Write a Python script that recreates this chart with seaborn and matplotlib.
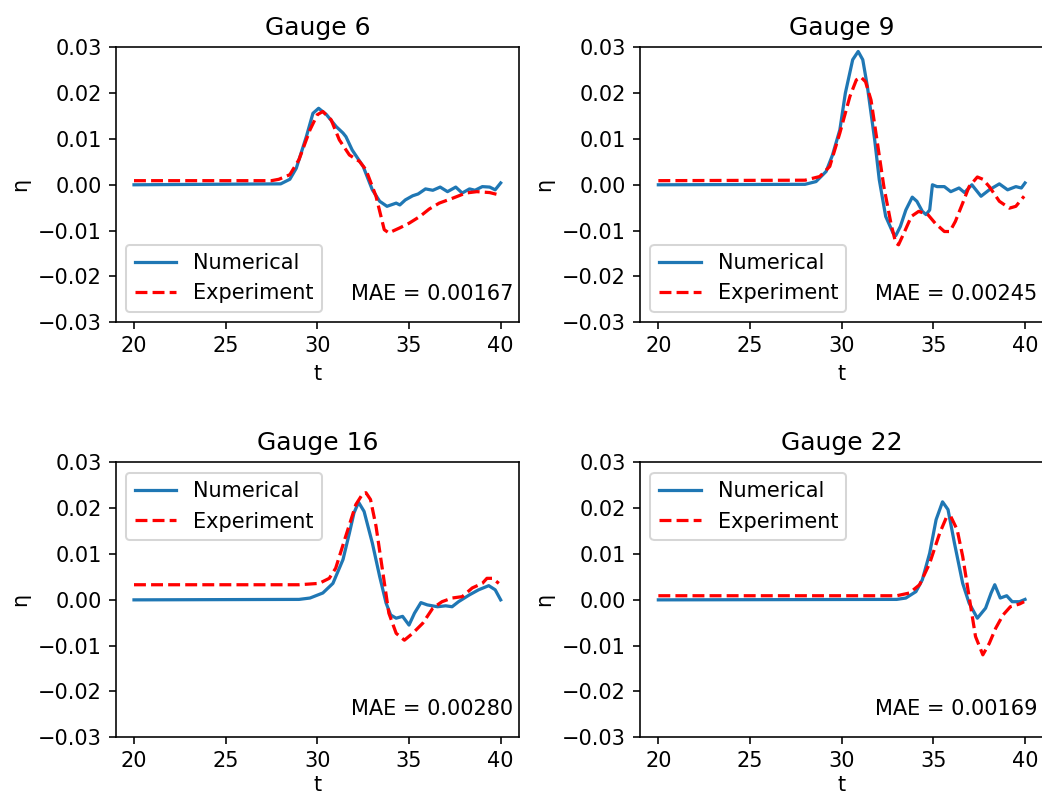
import numpy as np
import pandas as pd
import matplotlib
matplotlib.use("Agg")
import matplotlib.pyplot as plt
import seaborn as sns

# ---------------- data ----------------
gauges = ["Gauge 6", "Gauge 9", "Gauge 16", "Gauge 22"]
mae_values = ["0.00167", "0.00245", "0.00280", "0.00169"]
legend_locs = ["lower left", "lower left", "upper left", "upper left"]

g6_num_t = [20, 28.0, 28.5, 28.85, 29.4, 29.76, 30.07, 30.5, 31.03, 31.4, 31.56, 31.9, 32.5, 33.0, 33.4,
            33.8, 34.3, 34.5, 34.8, 35.2, 35.5, 35.9, 36.3, 36.7, 37.1, 37.55, 37.9, 38.3, 38.6, 39.0,
            39.4, 39.7, 40.0]
g6_num_eta = [0, 0.0002, 0.0012, 0.0036, 0.0105, 0.0156, 0.0167, 0.0153, 0.0127, 0.0113, 0.0105, 0.0076,
              0.0040, -0.0011, -0.0036, -0.0047, -0.0040, -0.0044, -0.0033, -0.0024, -0.0020, -0.0009,
              -0.0012, -0.0005, -0.0015, -0.0005, -0.0018, -0.0009, -0.0012, -0.0004, -0.0005, -0.0011, 0.0004]
g6_exp_t = [20, 27.5, 27.9, 28.5, 29.0, 29.6, 30.0, 30.3, 30.75, 31.2, 31.75, 32.3, 32.65, 33.2, 33.65,
            33.9, 34.5, 35.0, 35.6, 36.1, 36.65, 37.4, 38.1, 38.7, 39.4, 39.9]
g6_exp_eta = [0.0009, 0.0009, 0.0012, 0.0022, 0.0055, 0.0120, 0.0153, 0.0160, 0.0142, 0.0098, 0.0065,
              0.0051, 0.0033, -0.0025, -0.0098, -0.0105, -0.0094, -0.0084, -0.0069, -0.0053, -0.0040,
              -0.0029, -0.0018, -0.0015, -0.0017, -0.0022]

g9_num_t = [20, 28.0, 28.6, 29.15, 29.5, 29.9, 30.2, 30.6, 30.9, 31.15, 31.4, 31.8, 32.05, 32.4, 32.8,
            32.95, 33.2, 33.5, 33.85, 34.1, 34.4, 34.6, 34.8, 34.95, 35.2, 35.6, 35.95, 36.4, 36.7, 37.1,
            37.6, 38.05, 38.6, 39.05, 39.5, 39.8, 40.0]
g9_num_eta = [0, 0.0001, 0.0007, 0.0029, 0.0065, 0.0120, 0.0200, 0.0273, 0.0291, 0.0273, 0.0215, 0.0098,
              0.0011, -0.0069, -0.0105, -0.0111, -0.0091, -0.0055, -0.0027, -0.0036, -0.0058, -0.0065,
              -0.0055, 0.0000, -0.0004, -0.0004, -0.0015, -0.0007, -0.0017, 0.0000, -0.0025, -0.0011,
              0.0002, -0.0011, -0.0004, -0.0007, 0.0004]
g9_exp_t = [20, 28.0, 28.8, 29.35, 29.9, 30.45, 30.8, 31.05, 31.3, 31.6, 31.95, 32.3, 32.7, 32.95, 33.1,
            33.4, 33.8, 34.2, 34.7, 35.1, 35.6, 35.9, 36.2, 36.6, 36.95, 37.4, 37.7, 38.05, 38.6, 39.15,
            39.5, 39.95]
g9_exp_eta = [0.0009, 0.0010, 0.0018, 0.0040, 0.0113, 0.0193, 0.0229, 0.0235, 0.0225, 0.0185, 0.0091,
              -0.0004, -0.0087, -0.0127, -0.0131, -0.0105, -0.0069, -0.0058, -0.0065, -0.0084, -0.0102,
              -0.0102, -0.0080, -0.0040, -0.0004, 0.0017, 0.0012, -0.0004, -0.0036, -0.0051, -0.0047,
              -0.0025]

g16_num_t = [20, 29.0, 29.6, 30.3, 30.85, 31.4, 31.75, 32.0, 32.25, 32.55, 33.0, 33.4, 33.75, 34.0, 34.3,
             34.65, 35.0, 35.3, 35.65, 36.0, 36.55, 37.0, 37.35, 37.7, 38.3, 38.8, 39.35, 39.7, 40.0]
g16_num_eta = [0, 0.0001, 0.0004, 0.0015, 0.0036, 0.0088, 0.0146, 0.0190, 0.0213, 0.0193, 0.0124, 0.0051,
               -0.0007, -0.0033, -0.0040, -0.0036, -0.0055, -0.0029, -0.0006, -0.0011, -0.0015, -0.0013,
               -0.0015, -0.0004, 0.0011, 0.0022, 0.0031, 0.0022, 0.0000]
g16_exp_t = [20, 29.0, 30.1, 30.65, 31.0, 31.55, 32.1, 32.45, 32.65, 32.9, 33.2, 33.55, 33.9, 34.3, 34.75,
             35.2, 35.75, 36.3, 36.8, 37.35, 37.9, 38.45, 39.0, 39.25, 39.55, 39.9]
g16_exp_eta = [0.0033, 0.0033, 0.0036, 0.0047, 0.0069, 0.0139, 0.0208, 0.0230, 0.0234, 0.0219, 0.0161,
               0.0066, -0.0029, -0.0073, -0.0088, -0.0073, -0.0051, -0.0018, -0.0004, 0.0004, 0.0007,
               0.0026, 0.0036, 0.0047, 0.0047, 0.0036]

g22_num_t = [20, 33.0, 33.5, 34.05, 34.4, 34.8, 35.15, 35.5, 35.8, 36.15, 36.6, 36.95, 37.4, 37.85, 38.15,
             38.35, 38.65, 39.0, 39.3, 39.7, 40.0]
g22_num_eta = [0, 0.0001, 0.0004, 0.0018, 0.0044, 0.0102, 0.0175, 0.0214, 0.0197, 0.0124, 0.0036,
               -0.0007, -0.0040, -0.0018, 0.0015, 0.0033, 0.0004, 0.0009, -0.0004, -0.0004, 0.0001]
g22_exp_t = [20, 33.0, 33.7, 34.25, 34.8, 35.35, 35.7, 35.95, 36.3, 36.6, 36.95, 37.3, 37.7, 38.05, 38.4,
             38.8, 39.2, 39.7, 39.95]
g22_exp_eta = [0.0009, 0.0009, 0.0015, 0.0033, 0.0080, 0.0146, 0.0179, 0.0182, 0.0153, 0.0095, 0.0007,
               -0.0080, -0.0120, -0.0095, -0.0062, -0.0033, -0.0015, -0.0009, -0.0004]

num_series = [(g6_num_t, g6_num_eta), (g9_num_t, g9_num_eta), (g16_num_t, g16_num_eta), (g22_num_t, g22_num_eta)]
exp_series = [(g6_exp_t, g6_exp_eta), (g9_exp_t, g9_exp_eta), (g16_exp_t, g16_exp_eta), (g22_exp_t, g22_exp_eta)]

x_ticks = [20, 25, 30, 35, 40]
y_ticks = [-0.03, -0.02, -0.01, 0.00, 0.01, 0.02, 0.03]

# ---------------- figure ----------------
DPI = 145
FS = 10.4
fig, axes = plt.subplots(2, 2, figsize=(1042 / DPI, 797 / DPI), dpi=DPI)
fig.subplots_adjust(left=0.111, right=1.0013, top=0.9406, bottom=0.0749, wspace=0.30, hspace=0.51)

for i, (ax, name, mae, loc, (nt, ne), (et, ee)) in enumerate(zip(axes.flat, gauges, mae_values, legend_locs,
                                                                  num_series, exp_series)):
    sns.lineplot(x=nt, y=ne, ax=ax, color="#1f77b4", linewidth=1.6, label="Numerical", sort=False)
    sns.lineplot(x=et, y=ee, ax=ax, color="red", linewidth=1.6, linestyle="--",
                 label="Experiment", sort=False)
    ax.set_ylim(-0.03, 0.03)
    ax.set_yticks(y_ticks)
    ax.set_yticklabels([f"{v:.2f}".replace("-", "\u2212") for v in y_ticks])
    ax.set_xticks(x_ticks)
    ax.tick_params(labelsize=FS)
    ax.set_title(name, fontsize=12.4)
    ax.set_xlabel("t", fontsize=FS, labelpad=(4.0 if i < 2 else 2.0))
    ax.set_ylabel("η", fontsize=FS)
    ax.legend(loc=loc, fontsize=FS)
    ax.text(0.985, 0.08, f"MAE = {mae}", transform=ax.transAxes, ha="right", va="baseline", fontsize=FS)

fig.savefig("out.png", dpi=DPI)
